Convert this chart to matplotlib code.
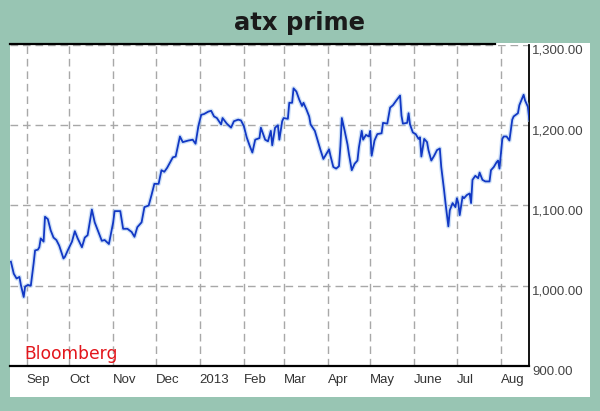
import matplotlib
matplotlib.use("Agg")
import matplotlib.pyplot as plt
import matplotlib.patches as patches
from datetime import datetime

# daily closes (approx)
dates = [
    "2012-08-21", "2012-08-23", "2012-08-25", "2012-08-27", "2012-08-28", "2012-08-30", "2012-08-31",
    "2012-09-02", "2012-09-04", "2012-09-06", "2012-09-07", "2012-09-09", "2012-09-10", "2012-09-11",
    "2012-09-13", "2012-09-14", "2012-09-16", "2012-09-18", "2012-09-20", "2012-09-22", "2012-09-24",
    "2012-09-27", "2012-09-28", "2012-09-30", "2012-10-03", "2012-10-05", "2012-10-07", "2012-10-10",
    "2012-10-12", "2012-10-14", "2012-10-17", "2012-10-19", "2012-10-24", "2012-10-26", "2012-10-29",
    "2012-11-01", "2012-11-02", "2012-11-06", "2012-11-08", "2012-11-11", "2012-11-14", "2012-11-16",
    "2012-11-18", "2012-11-21", "2012-11-23", "2012-11-26", "2012-11-28", "2012-11-30", "2012-12-03",
    "2012-12-05", "2012-12-07", "2012-12-09", "2012-12-13", "2012-12-15", "2012-12-18", "2012-12-20",
    "2012-12-24", "2012-12-27", "2012-12-29", "2012-12-31", "2013-01-02", "2013-01-04", "2013-01-07",
    "2013-01-09", "2013-01-11", "2013-01-13", "2013-01-16", "2013-01-17", "2013-01-20", "2013-01-23",
    "2013-01-25", "2013-01-28", "2013-01-30", "2013-02-01", "2013-02-03", "2013-02-05", "2013-02-07",
    "2013-02-09", "2013-02-12", "2013-02-13", "2013-02-16", "2013-02-18", "2013-02-20", "2013-02-21",
    "2013-02-23", "2013-02-25", "2013-02-26", "2013-02-28", "2013-03-01", "2013-03-04", "2013-03-05",
    "2013-03-07", "2013-03-08", "2013-03-10", "2013-03-12", "2013-03-14", "2013-03-15", "2013-03-17",
    "2013-03-19", "2013-03-20", "2013-03-23", "2013-03-25", "2013-03-27", "2013-03-29", "2013-03-31",
    "2013-04-02", "2013-04-03", "2013-04-05", "2013-04-07", "2013-04-09", "2013-04-10", "2013-04-11",
    "2013-04-13", "2013-04-15", "2013-04-16", "2013-04-18", "2013-04-20", "2013-04-22", "2013-04-23",
    "2013-04-25", "2013-04-26", "2013-04-28", "2013-04-30", "2013-05-01", "2013-05-02", "2013-05-04",
    "2013-05-06", "2013-05-09", "2013-05-10", "2013-05-13", "2013-05-15", "2013-05-17", "2013-05-19",
    "2013-05-22", "2013-05-23", "2013-05-24", "2013-05-27", "2013-05-28", "2013-05-29", "2013-05-31",
    "2013-06-02", "2013-06-04", "2013-06-05", "2013-06-06", "2013-06-08", "2013-06-10", "2013-06-11",
    "2013-06-13", "2013-06-15", "2013-06-17", "2013-06-19", "2013-06-20", "2013-06-22", "2013-06-23",
    "2013-06-25", "2013-06-26", "2013-06-28", "2013-06-30", "2013-07-01", "2013-07-02", "2013-07-03",
    "2013-07-05", "2013-07-06", "2013-07-08", "2013-07-10", "2013-07-11", "2013-07-12", "2013-07-14",
    "2013-07-16", "2013-07-17", "2013-07-19", "2013-07-21", "2013-07-24", "2013-07-25", "2013-07-27",
    "2013-07-29", "2013-07-30", "2013-07-31", "2013-08-02", "2013-08-03", "2013-08-05", "2013-08-07",
    "2013-08-09", "2013-08-10", "2013-08-13", "2013-08-14", "2013-08-17", "2013-08-18", "2013-08-20",
    "2013-08-21",
]
values = [
    1030, 1015, 1009, 1011, 1001, 986, 999,
    1001, 1000, 1028, 1044, 1045, 1048, 1059,
    1055, 1086, 1083, 1069, 1060, 1057, 1050,
    1034, 1036, 1044, 1055, 1068, 1059, 1048,
    1060, 1063, 1095, 1079, 1056, 1057, 1052,
    1079, 1093, 1093, 1071, 1071, 1067, 1061,
    1073, 1079, 1098, 1100, 1113, 1127, 1127,
    1144, 1142, 1147, 1160, 1161, 1186, 1179,
    1181, 1182, 1177, 1199, 1213, 1214, 1217,
    1218, 1211, 1209, 1201, 1209, 1202, 1197,
    1205, 1207, 1206, 1199, 1185, 1175, 1166,
    1182, 1184, 1197, 1182, 1180, 1193, 1175,
    1197, 1200, 1182, 1205, 1209, 1208, 1228,
    1228, 1246, 1242, 1232, 1224, 1228, 1220,
    1211, 1201, 1193, 1181, 1169, 1158, 1164,
    1170, 1162, 1148, 1146, 1149, 1174, 1209,
    1193, 1176, 1164, 1144, 1152, 1156, 1172,
    1193, 1182, 1188, 1186, 1193, 1162, 1181,
    1189, 1190, 1203, 1202, 1222, 1225, 1230,
    1237, 1212, 1202, 1203, 1215, 1201, 1191,
    1189, 1183, 1185, 1161, 1183, 1179, 1169,
    1156, 1162, 1169, 1171, 1148, 1119, 1103,
    1074, 1094, 1103, 1098, 1109, 1103, 1088,
    1111, 1109, 1113, 1115, 1103, 1132, 1137,
    1134, 1141, 1132, 1130, 1130, 1144, 1148,
    1154, 1156, 1146, 1183, 1186, 1186, 1181,
    1207, 1211, 1215, 1225, 1238, 1231, 1223,
    1207,
]

month_starts = ["2012-09-01", "2012-10-01", "2012-11-01", "2012-12-01", "2013-01-01", "2013-02-01",
                "2013-03-01", "2013-04-01", "2013-05-01", "2013-06-01", "2013-07-01", "2013-08-01"]
month_labels = ["Sep", "Oct", "Nov", "Dec", "2013", "Feb", "Mar", "Apr", "May", "June", "Jul", "Aug"]
y_ticks = [900, 1000, 1100, 1200, 1300]

W, H = 600, 411
bg = "#98c5b3"

x = [datetime.strptime(d, "%Y-%m-%d") for d in dates]
xt = [datetime.strptime(d, "%Y-%m-%d") for d in month_starts]

fig = plt.figure(figsize=(W / 100, H / 100), dpi=100, facecolor=bg)

# white card behind the chart
card = patches.Rectangle((9.5 / W, 1 - 397 / H), (590 - 9.5) / W, (397 - 43) / H,
                         transform=fig.transFigure, facecolor="white", edgecolor="none", zorder=-1)
fig.patches.append(card)

ax = fig.add_axes([9.5 / W, 1 - 366 / H, (529.3 - 9.5) / W, (366 - 45) / H])
ax.set_zorder(2)
ax.set_facecolor("white")

ax.plot(x, values, color="#a9c9f2", lw=3.2, alpha=0.55, solid_joinstyle="round", zorder=3)
ax.plot(x, values, color="#1238c4", lw=1.3, solid_joinstyle="round", zorder=4)

ax.set_xlim(datetime(2012, 8, 20), datetime(2013, 8, 21))
ax.set_ylim(900, 1300)

ax.set_xticks(xt)
ax.set_xticklabels(month_labels, ha="left", fontsize=9.5, family="Liberation Sans", color="#333333")
ax.set_yticks(y_ticks)
ax.set_yticklabels([f"{v:,.2f}" for v in y_ticks], va="top", fontsize=9.5,
                   family="Liberation Sans", color="#444444")
ax.yaxis.tick_right()
ax.tick_params(axis="x", length=0, pad=6)
ax.tick_params(axis="y", length=0, pad=2)

ax.grid(True, color="#a8a8a8", lw=1.0, linestyle=(0, (5.5, 3.5)))
ax.set_axisbelow(True)

for s in ["left", "top"]:
    ax.spines[s].set_visible(False)
ax.spines["right"].set_color("black")
ax.spines["right"].set_linewidth(1.3)
ax.spines["bottom"].set_color("black")
ax.spines["bottom"].set_linewidth(1.6)

# partial black rule along the top
ax.plot([0, (495 - 9.5) / (529.3 - 9.5)], [1.003, 1.003], transform=ax.transAxes,
        color="black", lw=1.6, clip_on=False, zorder=5)

ax.text((24.3 - 9.5) / (529.3 - 9.5), (366 - 359.3) / (366 - 45), "Bloomberg",
        transform=ax.transAxes, ha="left", va="baseline", fontsize=12.3,
        family="DejaVu Sans", color="#e3161c", zorder=6)

fig.text(0.5, 1 - 23 / H, "atx prime", ha="center", va="center", fontsize=17.5,
         fontweight="bold", family="DejaVu Sans", color="#1a1a1a")

fig.savefig("out.png", dpi=100, facecolor=bg)
